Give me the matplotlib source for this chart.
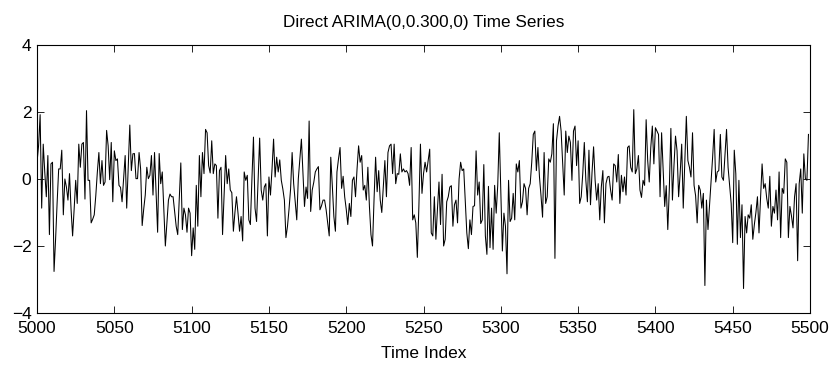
#!/usr/bin/python3
import numpy as np
from matplotlib import pyplot as plt

# values, one chunk per 50 time steps (approx.)
seg_5000 = [0.5, 1.0, 1.92, -0.87, 1.04, 0.2, -0.53, 0.7, -1.66, 0.45,
            0.5, -2.76, -1.8, -0.7, 0.3, 0.3, 0.86, -1.07, 0.0, -0.24,
            -0.63, 0.16, -0.9, -1.7, -0.9, -0.04, -0.73, 1.04, 0.35, 1.04,
            1.09, -0.6, 2.04, -0.04, -0.04, -1.31, -1.2, -1.07, -0.5, 0.2,
            0.79, -0.14, 0.55, -0.19, -0.09, 1.45, 0.99, -0.02, 1.09, -0.68]
seg_5050 = [0.84, 0.55, 0.6, -0.19, -0.25, -0.68, 0.0, 0.7, -0.87, 0.4,
            1.61, 0.25, 0.75, 0.76, 0.01, 0.01, 0.79, 0.3, -1.39, -0.9,
            -0.48, 0.35, 0.01, 0.11, 0.7, -0.48, 0.79, -0.4, -1.59, 0.76,
            -0.14, 0.21, -0.92, -2.0, -1.3, -0.63, -0.45, -0.53, -0.53, -0.97,
            -1.41, -1.66, -0.6, 0.48, -1.51, -0.87, -1.07, -1.59, -0.87, -1.02,
            -2.29]
seg_5100 = [-1.46, -2.1, -0.19, -1.41, 0.7, -0.53, 0.79, 0.16, 1.48, 1.38,
            0.4, 0.18, 1.14, 0.16, 0.45, 0.4, -1.17, 0.25, 0.35, -1.66,
            -0.5, 0.7, -0.14, 0.3, -0.33, -0.41, -1.56, -1.0, -0.53, -1.02,
            -1.56, -1.12, -1.85, 0.21, -0.04, 0.11, -1.22, -1.36, 0.0, 1.25,
            -0.87, -1.27, 0.0, 1.22, -0.33, -0.63, -0.24, -0.14, -1.7, 0.06]
seg_5150 = [-0.48, 0.3, 1.19, 0.06, 0.65, 0.21, 0.57, -0.04, -0.3, -0.63,
            -1.75, -1.41, -0.9, -0.3, 0.79, -0.14, -0.7, -1.22, 0.0, 0.6,
            1.19, 0.2, -0.82, -0.24, -0.58, 1.73, -0.97, -0.33, -0.1, 0.21,
            0.3, 0.37, -0.92, -0.8, -0.63, -0.63, -0.92, -1.3, -1.7, 0.65,
            -0.2, -1.12, -1.56, 0.21, 0.6, 0.94, -0.28, 0.08, -0.53, -0.9,
            -1.36, -0.73]
seg_5200 = [-1.12, -0.04, 0.06, -0.53, 0.3, 0.99, 0.5, 0.7, -0.33, -0.19,
            -0.63, 0.35, -0.82, -1.66, -2.0, -0.6, 0.65, -0.38, 0.25, -0.63,
            -1.0, -0.24, 0.55, -0.53, 0.79, 0.99, 1.04, 0.16, 1.04, -0.14,
            0.16, 0.14, 0.75, 0.21, 0.3, 0.21, 0.25, 0.16, -0.19, 0.94,
            -1.22, -1.07, -1.31, -2.34, -0.82, 1.04, -0.43, 0.16, 0.5, 0.21]
seg_5250 = [0.55, 0.89, -1.61, -1.7, -0.53, -1.8, -0.9, -0.09, -1.36, 0.14,
            -2.0, -1.8, -0.68, -0.53, -0.24, -0.2, -1.41, -0.77, -0.63, -1.31,
            0.0, 0.5, 0.25, 0.3, -0.63, -1.61, -2.08, -1.22, -1.66, -0.82,
            -0.8, 0.84, -0.48, -0.09, -1.33, -1.22, 0.43, -1.7, -2.25, -0.22,
            -2.05, -0.87, -2.1, -0.19, -1.02, -0.19, 1.38, -0.4, -2.15, -1.02]
seg_5300 = [-1.41, -2.83, -0.04, -1.27, -1.17, -0.43, -1.22, 0.45, 0.21, 0.55,
            -0.87, -0.68, -0.14, -0.28, -1.07, -0.28, -0.14, 0.5, 1.33, 1.43,
            0.25, 0.94, 0.06, -0.5, -1.14, 0.79, -0.73, -0.53, 0.6, 0.5,
            0.75, 1.65, -2.37, 1.14, 1.58, 1.87, 1.43, 0.5, -0.48, 1.43,
            0.79, 1.28, 1.09, -0.04, 1.43, 1.58, 0.4, 1.14, -0.73, -0.53,
            0.16]
seg_5350 = [1.09, -0.04, -0.68, 0.86, -0.77, 0.2, 0.96, -0.04, -0.63, -0.14,
            -1.22, -0.24, 0.25, -1.31, -0.14, 0.06, 0.08, -0.33, -0.63, 0.45,
            0.4, -0.09, 0.73, -0.73, 0.11, -0.38, 0.06, -0.48, 0.94, 0.99,
            0.35, 0.21, 2.07, 0.16, 0.3, 0.7, -0.33, -0.55, -0.04, -0.19,
            1.77, 0.55, -0.09, 0.94, 1.58, 0.45, 1.53, 1.43, 1.33, -0.53]
seg_5400 = [1.38, 0.3, -0.82, -0.2, -1.51, -0.28, 1.51, -0.63, 0.4, 1.28,
            0.84, -0.53, 0.16, 1.04, -0.87, 0.55, 1.87, 0.55, 0.35, 0.06,
            1.38, -0.19, -0.5, -1.31, -0.19, -0.33, -0.87, -0.43, -3.18, -0.63,
            -1.51, -0.8, -0.14, 0.65, 1.48, -0.09, 0.21, 0.25, 1.33, 0.06,
            -0.04, 0.7, 1.48, 0.35, -0.2, -0.73, -1.9, 0.86, 0.16, -1.95,
            -0.04]
seg_5450 = [-1.75, -0.77, -3.27, -1.12, -1.61, -1.07, -1.17, -0.77, -1.8, -1.36,
            -1.0, -0.53, -1.61, -0.6, 0.45, -0.28, -0.14, -0.58, -0.87, 0.08,
            -1.41, -0.82, -1.02, -0.33, -1.22, 0.21, -1.75, -0.28, -0.43, 0.6,
            0.5, -1.75, -0.82, -1.1, -1.46, -0.53, -0.14, -2.44, -0.14, 0.3,
            -1.02, 0.75, 0.01, -0.04, 1.33]

values = np.array(seg_5000 + seg_5050 + seg_5100 + seg_5150 + seg_5200 +
                  seg_5250 + seg_5300 + seg_5350 + seg_5400 + seg_5450)
t = 5000 + np.arange(len(values))

x_ticks = list(range(5000, 5501, 50))
y_ticks = [-4, -2, 0, 2, 4]

plt.rcParams['font.family'] = ['Liberation Sans', 'DejaVu Sans']

fig = plt.figure(figsize=(8.38, 3.73), dpi=100)
ax = fig.add_axes([0.0442, 0.1609, 0.9224, 0.7185])
ax.plot(t, values, color='black', lw=0.75)
ax.set_xlim(5000, 5500)
ax.set_ylim(-4, 4)
ax.set_xticks(x_ticks)
ax.set_yticks(y_ticks)
ax.tick_params(direction='in', length=5, width=0.6, top=True, right=True,
               labelsize=12.5)
ax.tick_params(axis='x', pad=6)
ax.tick_params(axis='y', pad=4)
for s in ax.spines.values():
    s.set_linewidth(0.8)
ax.set_xlabel('Time Index', fontsize=12.5, labelpad=7)
ax.set_title('Direct ARIMA(0,0.300,0) Time Series', fontsize=12.3, pad=13)

fig.savefig('out.png', dpi=100)
plt.close(fig)
